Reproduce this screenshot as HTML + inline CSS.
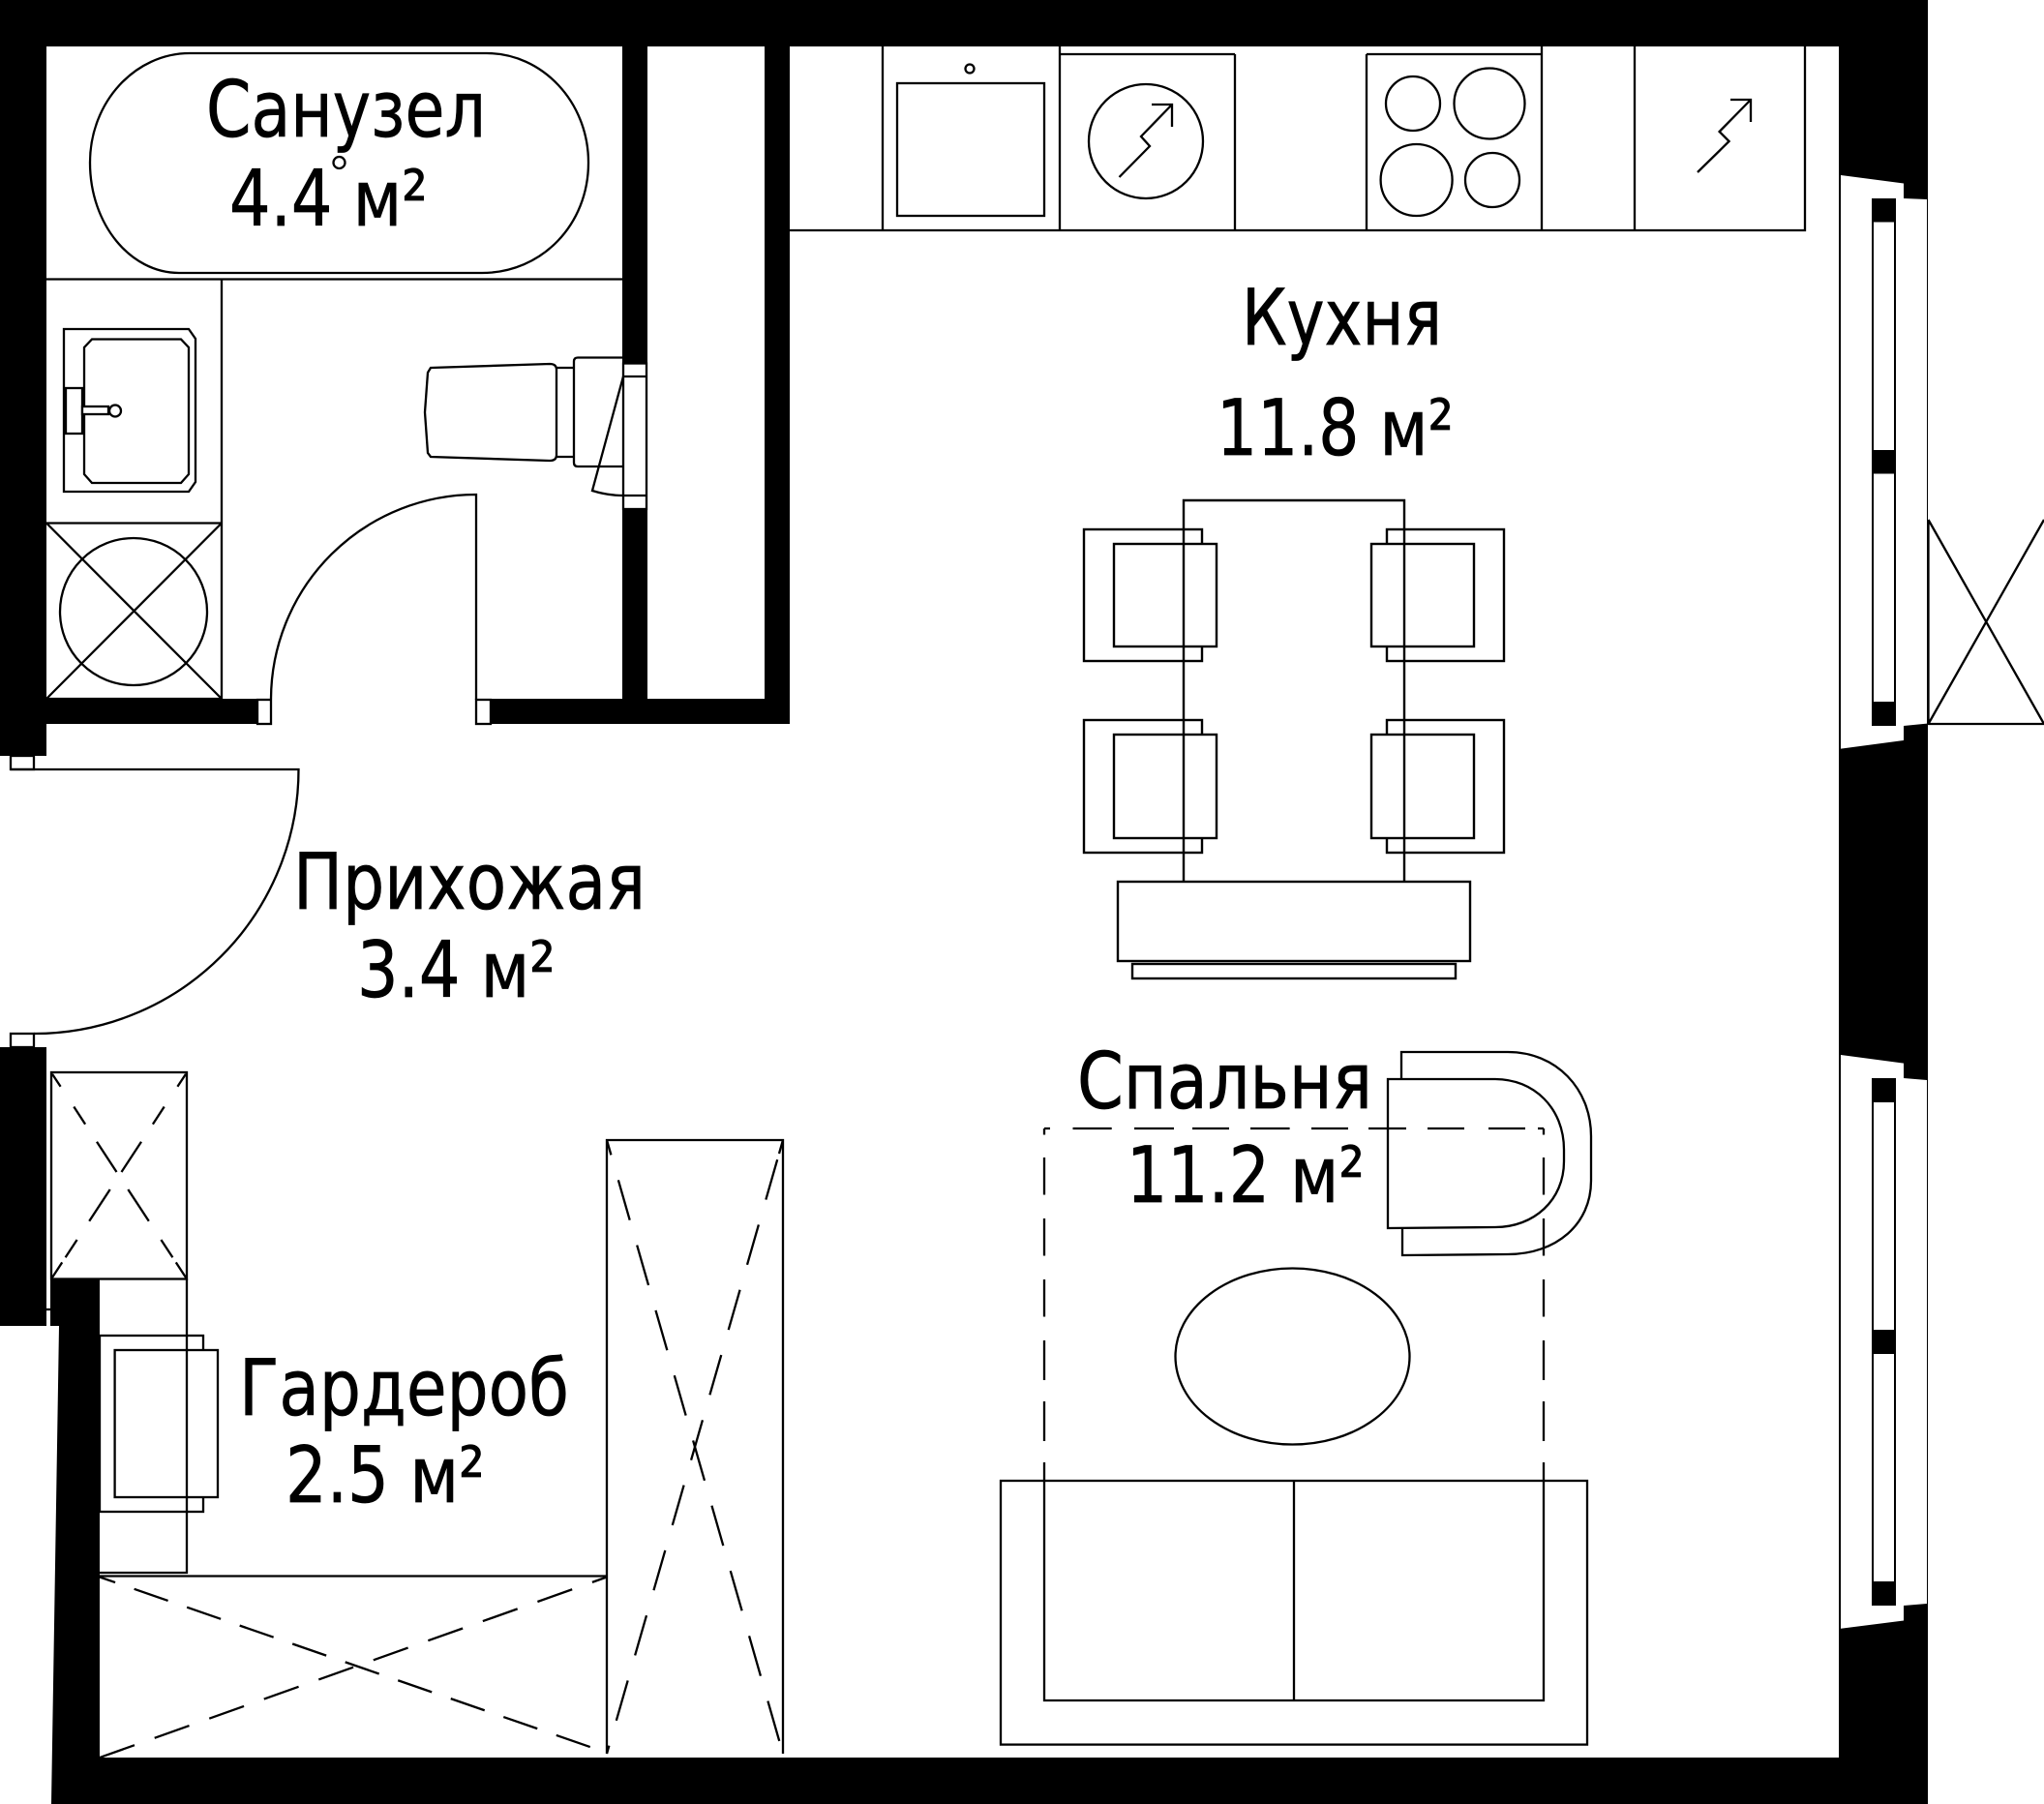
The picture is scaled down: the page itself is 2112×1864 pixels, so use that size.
<!DOCTYPE html>
<html><head><meta charset="utf-8"><style>
html,body{margin:0;padding:0;background:#fff;width:2112px;height:1864px;overflow:hidden}
svg{display:block}
text{font-family:"DejaVu Sans","Liberation Sans",sans-serif;font-size:80px;fill:#000;stroke:#000;stroke-width:.7}
.l{fill:none;stroke:#000;stroke-width:2.3}
.w{fill:#fff;stroke:#000;stroke-width:2.3}
.c{fill:none;stroke:#000;stroke-width:2.4}
.cw{fill:#fff;stroke:#000;stroke-width:2.4}
.k{fill:#000;stroke:none}
</style></head><body>
<svg width="2112" height="1864" viewBox="0 0 2112 1864" xmlns="http://www.w3.org/2000/svg">
<rect width="2112" height="1864" fill="#fff" stroke="none"/>
<!-- walls -->
<rect class="k" x="0" y="0" width="1992" height="48"/>
<rect class="k" x="0" y="0" width="48" height="781"/>
<rect class="k" x="643" y="0" width="26" height="748"/>
<rect class="k" x="790" y="0" width="26" height="748"/>
<rect class="k" x="48" y="722" width="232" height="26"/>
<rect class="k" x="492" y="722" width="324" height="26"/>
<rect class="k" x="1900" y="0" width="92" height="1864"/>
<rect class="k" x="0" y="1082" width="48" height="288"/>
<polygon class="k" points="52,1322 103,1322 103,1816 1992,1816 1992,1864 53,1864 61,1370 52,1370"/>
<line class="l" x1="48" y1="1353" x2="52" y2="1353"/>
<!-- windows -->
<polygon fill="#fff" points="1902,181 1967,189.5 1967,205 1991,206 1991,747.6 1967,750 1967,765 1902,773.6"/>
<rect class="k" x="1934" y="205" width="25" height="545"/>
<rect fill="#fff" x="1936" y="229.5" width="21" height="235.5"/>
<rect fill="#fff" x="1936" y="489.5" width="21" height="235.5"/>
<polygon fill="#fff" points="1902,1090 1967,1098.6 1967,1114 1991,1116 1991,1657 1967,1659 1967,1674.5 1902,1682.7"/>
<rect class="k" x="1934" y="1114" width="25" height="545"/>
<rect fill="#fff" x="1936" y="1139" width="21" height="235"/>
<rect fill="#fff" x="1936" y="1399" width="21" height="235"/>
<!-- balcony X -->
<path class="l" d="M1992.5,537V748H2112M1992.5,537L2112,748M1992.5,748L2112,537"/>
<!-- bath -->
<path class="l" d="M196,55L503,55C560,55 608,105 608,168C608,232 560,282 498,282L185,282C135,282 93,232 93,168C93,105 140,55 196,55Z"/>
<circle class="l" cx="350.5" cy="168" r="6"/>
<path class="l" d="M48,288.5H643M229,288.5V722M48,540.5H229M48,722H229"/>
<!-- sink -->
<polygon class="l" points="66,340 195,340 202,350 202,498 195,508 66,508"/>
<polygon class="l" points="95,350.5 187,350.5 195,359 195,490 187,499 95,499 87,490 87,359"/>
<rect class="w" x="68" y="401" width="17" height="47"/>
<rect class="w" x="85" y="420" width="27" height="8"/>
<circle class="w" cx="119" cy="424.5" r="6"/>
<!-- washer -->
<path class="l" d="M48,540.5L229,722M229,540.5L48,722"/>
<circle class="l" cx="138" cy="632" r="76"/>
<!-- door 1 -->
<rect class="w" x="266" y="723" width="14" height="25"/>
<rect class="w" x="492" y="723" width="15" height="25"/>
<path class="l" d="M280,722A212,212 0 0 1 492,511V723"/>
<!-- toilet -->
<rect class="w" x="644" y="375.5" width="24" height="150.5"/>
<path class="l" d="M644,389H668M644,512H668"/>
<path class="l" d="M445,380L568,376Q575,376 575,382L575,470Q575,476 568,476L445,472L442,468L439,426L442,385Z"/>
<path class="l" d="M575,380H593M575,472H593"/>
<path class="l" d="M643,369.5H597Q593,369.5 593,373.5V478Q593,482 597,482H643"/>
<path class="l" d="M644,389L612,507Q628,512 644,512"/>
<!-- door 2 -->
<rect class="w" x="11" y="781" width="24" height="14"/>
<rect class="w" x="11" y="1068" width="24" height="14"/>
<path class="l" d="M11,795H308.5A273,273 0 0 1 35,1068"/>
<!-- kitchen counter -->
<path class="l" d="M816,238H1865V48M912,48V238M1095,48V238M1276,56V238M1412,56V238M1593,48V238M1689,48V238"/>
<path class="l" d="M1095,56H1276M1412,56H1593"/>
<rect class="l" x="927" y="86" width="152" height="137"/>
<circle class="l" cx="1002" cy="71" r="4.5"/>
<circle class="l" cx="1184" cy="146" r="59"/>
<path class="l" d="M1156.5,183L1188,151L1179,141L1211,108M1190,108H1211V131"/>
<circle class="l" cx="1460" cy="107" r="28"/>
<circle class="l" cx="1539" cy="107" r="36.5"/>
<circle class="l" cx="1463.6" cy="186" r="37"/>
<circle class="l" cx="1542" cy="186" r="28"/>
<path class="l" d="M1754,178L1786.6,146L1776.6,136L1809,103M1788,103H1809V126"/>
<!-- dining -->
<rect class="c" x="1120" y="547" width="122" height="136"/>
<rect class="cw" x="1151" y="562" width="106" height="106"/>
<rect class="c" x="1433" y="547" width="121" height="136"/>
<rect class="cw" x="1417" y="562" width="106" height="106"/>
<rect class="c" x="1120" y="744" width="122" height="137"/>
<rect class="cw" x="1151" y="759" width="106" height="107"/>
<rect class="c" x="1433" y="744" width="121" height="137"/>
<rect class="cw" x="1417" y="759" width="106" height="107"/>
<path class="c" d="M1223,911V517H1451V911"/>
<rect class="c" x="1155" y="911" width="364" height="82"/>
<rect class="c" x="1170" y="996" width="334" height="15"/>
<!-- bedroom -->
<path class="l" d="M1079,1166H1085M1108.5,1166H1148.7M1172,1166H1213M1232,1166H1270M1292,1166H1332.6M1355,1166H1393M1414,1166H1453M1475,1166H1513M1538,1166H1576M1589,1166H1595"/>
<path class="l" d="M1079,1166V1172.5M1079,1196V1234.5M1079,1259V1297.5M1079,1322V1360.5M1079,1385V1426M1079,1448V1489M1079,1511V1757H1595V1511M1595,1489V1448M1595,1426V1385M1595,1360.5V1322M1595,1297.5V1259M1595,1234.5V1196M1595,1172.5V1166"/>
<rect class="l" x="1034" y="1530" width="606" height="272.6"/>
<path class="l" d="M1337,1530V1757"/>
<ellipse class="l" cx="1335.5" cy="1401.5" rx="121" ry="91"/>
<path class="l" d="M1448,1115V1087H1558C1608,1087 1644,1125 1644,1174V1220C1644,1265 1608,1296 1558,1296L1449,1297V1269"/>
<path class="l" d="M1434,1115H1545C1585,1115 1616,1145 1616,1188V1200C1616,1240 1585,1268 1545,1268L1434,1269Z"/>
<!-- closet -->
<rect class="l" x="53" y="1108" width="140" height="213.5"/>
<path class="l" d="M54,1109.7L62.6,1122.7M76.3,1143.5L88.1,1161.6M100,1179.8L120.5,1211M132.3,1229L153.8,1261.8M166.4,1281L178.4,1299.2M181.8,1304.4L193,1321.5"/>
<path class="l" d="M192,1109.7L183.4,1122.7M169.7,1143.5L157.9,1161.6M146,1179.8L125.5,1211M113.7,1229L92.2,1261.8M79.6,1281L67.6,1299.2M64.2,1304.4L53,1321.5"/>
<path class="l" d="M193,1321.5V1625H103"/>
<rect class="l" x="103" y="1380" width="107" height="182"/>
<rect class="w" x="118.6" y="1395" width="106.4" height="152"/>
<line class="l" x1="193" y1="1395" x2="193" y2="1547"/>
<!-- wardrobe -->
<path class="l" d="M103,1628.5H627"/>
<path class="l" d="M627,1812V1178H809V1812"/>
<path class="l" stroke-dasharray="43 27" stroke-dashoffset="27" d="M627,1178L809,1812"/>
<path class="l" stroke-dasharray="43 27" stroke-dashoffset="49" d="M809,1178L627,1812"/>
<path class="l" d="M809,1178L805,1192"/>
<path class="l" stroke-dasharray="37 20.7" stroke-dashoffset="20" d="M103,1629.5L627,1811"/>
<path class="l" stroke-dasharray="38 22" stroke-dashoffset="22" d="M627,1629.5L103,1816"/>
<!-- labels -->
<text x="213" y="141" textLength="289" lengthAdjust="spacingAndGlyphs">Санузел</text>
<text x="237" y="233" textLength="205" lengthAdjust="spacingAndGlyphs">4.4 м²</text>
<text x="1283" y="356" textLength="207" lengthAdjust="spacingAndGlyphs">Кухня</text>
<text x="1257" y="470" textLength="245" lengthAdjust="spacingAndGlyphs">11.8 м²</text>
<text x="303" y="939" textLength="364" lengthAdjust="spacingAndGlyphs">Прихожая</text>
<text x="369" y="1030" textLength="205" lengthAdjust="spacingAndGlyphs">3.4 м²</text>
<text x="247" y="1462" textLength="341" lengthAdjust="spacingAndGlyphs">Гардероб</text>
<text x="295" y="1552" textLength="206" lengthAdjust="spacingAndGlyphs">2.5 м²</text>
<text x="1113" y="1145" textLength="305" lengthAdjust="spacingAndGlyphs">Спальня</text>
<text x="1164" y="1242" textLength="246" lengthAdjust="spacingAndGlyphs">11.2 м²</text>
</svg>
</body></html>
